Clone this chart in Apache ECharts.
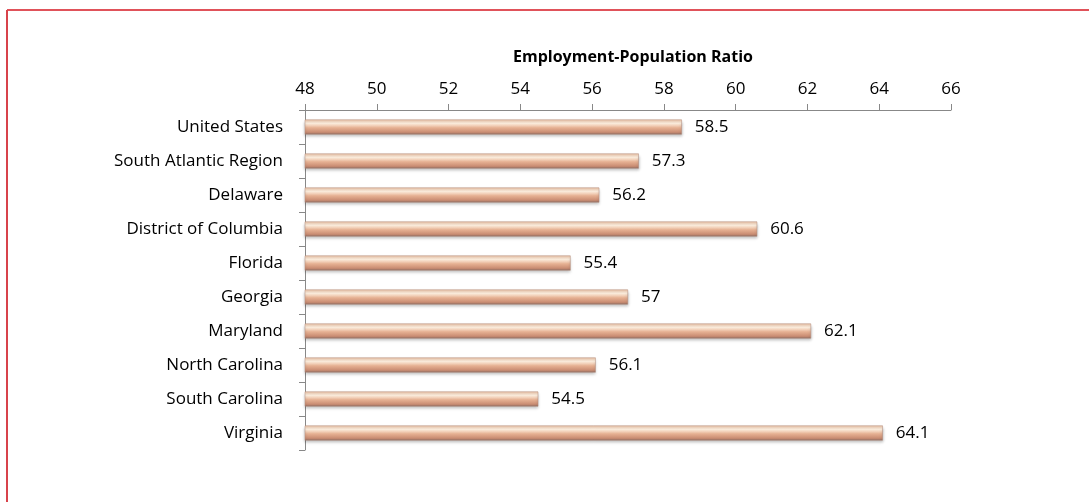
<!DOCTYPE html>
<html>
<head>
<meta charset="utf-8">
<script src="https://cdn.jsdelivr.net/npm/echarts@6/dist/echarts.min.js"></script>
<style>
  html, body { margin: 0; padding: 0; background: #fff; }
  #chart { width: 1089px; height: 502px; }
</style>
</head>
<body>
<div id="chart"></div>
<script>
// data
const categories = ['United States', 'South Atlantic Region', 'Delaware', 'District of Columbia',
  'Florida', 'Georgia', 'Maryland', 'North Carolina', 'South Carolina', 'Virginia'];
const ratios = [58.5, 57.3, 56.2, 60.6, 55.4, 57, 62.1, 56.1, 54.5, 64.1];
const axisTitle = 'Employment-Population Ratio';

const font = 'Open Sans, Lato, sans-serif';
const chart = echarts.init(document.getElementById('chart'));

chart.setOption({
  animation: false,
  graphic: [
    { type: 'line', shape: { x1: 7, y1: 10, x2: 1089, y2: 10 }, style: { stroke: '#e0525a', lineWidth: 2 } },
    { type: 'line', shape: { x1: 7, y1: 10, x2: 7, y2: 502 }, style: { stroke: '#d8434b', lineWidth: 2 } }
  ],
  title: {
    text: axisTitle,
    left: 628,
    top: 44,
    textAlign: 'center',
    textStyle: { fontFamily: font, fontSize: 16, fontWeight: 'bold', color: '#000' }
  },
  grid: { left: 305, right: 138, top: 110, height: 340, containLabel: false },
  xAxis: {
    type: 'value',
    position: 'top',
    min: 48,
    max: 66,
    interval: 2,
    axisLine: { show: true, lineStyle: { color: '#888', width: 1 } },
    axisTick: { show: true, length: 6, lineStyle: { color: '#888' } },
    axisLabel: { fontFamily: font, fontSize: 17, color: '#000', margin: 12 },
    splitLine: { show: false }
  },
  yAxis: {
    type: 'category',
    data: categories,
    inverse: true,
    axisLine: { show: true, lineStyle: { color: '#888', width: 1 } },
    axisTick: { show: true, length: 6, lineStyle: { color: '#888' } },
    axisLabel: { fontFamily: font, fontSize: 17, color: '#000', margin: 22 }
  },
  series: [{
    type: 'bar',
    data: ratios,
    barWidth: 15,
    itemStyle: {
      color: new echarts.graphic.LinearGradient(0, 0, 0, 1, [
        { offset: 0, color: '#ecc2a6' },
        { offset: 0.25, color: '#fff2e2' },
        { offset: 0.55, color: '#e6b193' },
        { offset: 0.85, color: '#c98c72' },
        { offset: 1, color: '#8c6a60' }
      ]),
      borderColor: '#b08878',
      borderWidth: 0.5,
      shadowColor: 'rgba(0,0,0,0.3)',
      shadowBlur: 3,
      shadowOffsetY: 2
    },
    label: {
      show: true,
      position: 'right',
      distance: 13,
      fontFamily: font,
      fontSize: 17,
      color: '#000'
    }
  }]
});
</script>
</body>
</html>
